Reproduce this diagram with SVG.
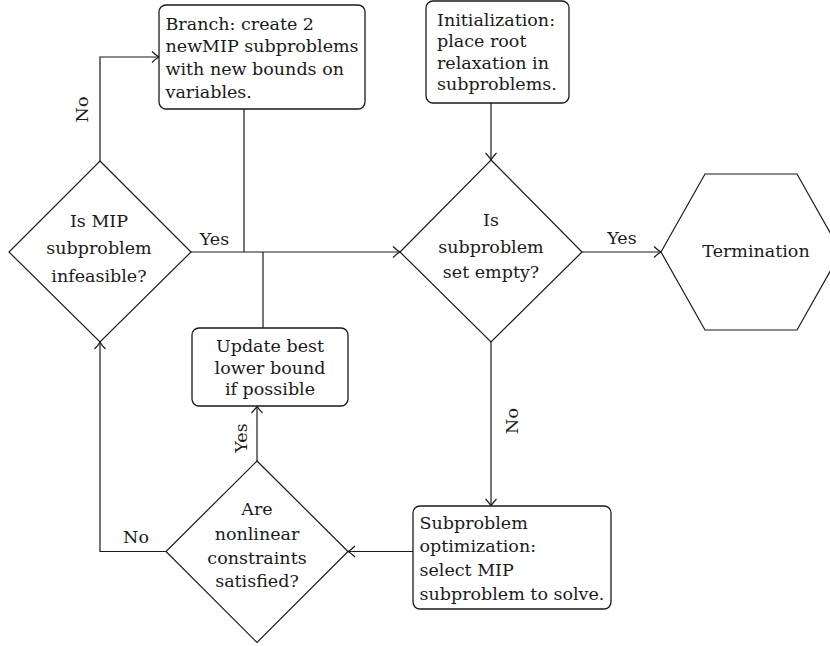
<svg xmlns="http://www.w3.org/2000/svg" width="830" height="646" viewBox="0 0 830 646">
<defs>
<style>
.box{fill:#fff;stroke:#1a1a1a;stroke-width:1.3}
.shape{fill:#fff;stroke:#1a1a1a;stroke-width:1.2}
.t{font-family:"DejaVu Serif","Liberation Serif",serif;font-size:17.5px;fill:#1a1a1a}
.c{text-anchor:middle}
.edge{fill:none;stroke:#1a1a1a;stroke-width:1.2}
</style>
<marker id="arr" markerUnits="userSpaceOnUse" markerWidth="16" markerHeight="16" viewBox="-8 -8 16 16" refX="0" refY="0" orient="auto">
<path d="M-7,-5.5 Q-3,-1.5 0,0 Q-3,1.5 -7,5.5" fill="none" stroke="#1a1a1a" stroke-width="1.2"/>
</marker>
</defs>
<rect width="830" height="646" fill="#fff"/>

<g id="connectors">
<path class="edge" d="M491,103 L491,160" marker-end="url(#arr)"/>
<path class="edge" d="M582,252 L661,252" marker-end="url(#arr)"/>
<path class="edge" d="M491,342 L491,506" marker-end="url(#arr)"/>
<path class="edge" d="M413,551.5 L348,551.5" marker-end="url(#arr)"/>
<path class="edge" d="M257,461 L257,406" marker-end="url(#arr)"/>
<path class="edge" d="M166,551.5 L100,551.5 L100,342" marker-end="url(#arr)"/>
<path class="edge" d="M100,161 L100,57 L159,57" marker-end="url(#arr)"/>
<path class="edge" d="M191,252 L400,252" marker-end="url(#arr)"/>
<path class="edge" d="M244,109 L244,252"/>
<path class="edge" d="M263,328 L263,252"/>
<text class="t c" x="214.5" y="245">Yes</text>
<text class="t c" x="622" y="244">Yes</text>
<text class="t c" x="136" y="543">No</text>
<text class="t c" transform="translate(88,109.5) rotate(-90)">No</text>
<text class="t c" transform="translate(518,421) rotate(-90)">No</text>
<text class="t c" transform="translate(246.5,438) rotate(-90)">Yes</text>
</g>

<g id="branch">
<rect class="box" x="159" y="5" width="206" height="104" rx="7"/>
<text class="t" x="165.5" y="29.5">Branch: create 2</text>
<text class="t" x="165.5" y="52.2">newMIP subproblems</text>
<text class="t" x="165.5" y="75">with new bounds on</text>
<text class="t" x="165.5" y="97.7">variables.</text>
</g>

<g id="init">
<rect class="box" x="426" y="1" width="143" height="102" rx="7"/>
<text class="t" x="437" y="26">Initialization:</text>
<text class="t" x="437" y="47">place root</text>
<text class="t" x="437" y="68.5">relaxation in</text>
<text class="t" x="437" y="90">subproblems.</text>
</g>

<g id="d1">
<polygon class="shape" points="100,161 191,252 100,342 9,252"/>
<text class="t c" x="99" y="226.7">Is MIP</text>
<text class="t c" x="99" y="254">subproblem</text>
<text class="t c" x="99" y="281.5">infeasible?</text>
</g>

<g id="d2">
<polygon class="shape" points="491,160 582,252 491,342 400,252"/>
<text class="t c" x="491" y="226">Is</text>
<text class="t c" x="491" y="253">subproblem</text>
<text class="t c" x="491" y="277.5">set empty?</text>
</g>

<g id="termination">
<polygon class="shape" points="661,252 705,174 797,174 841,252 797,330 705,330"/>
<text class="t c" x="756" y="257">Termination</text>
</g>

<g id="update">
<rect class="box" x="192" y="328" width="156" height="78" rx="7"/>
<text class="t c" x="270" y="352">Update best</text>
<text class="t c" x="270" y="373.5">lower bound</text>
<text class="t c" x="270" y="395">if possible</text>
</g>

<g id="d3">
<polygon class="shape" points="257,461 348,551.5 257,642.5 166,551.5"/>
<text class="t c" x="257" y="515">Are</text>
<text class="t c" x="257" y="540">nonlinear</text>
<text class="t c" x="257" y="563.5">constraints</text>
<text class="t c" x="257" y="587">satisfied?</text>
</g>

<g id="subopt">
<rect class="box" x="413" y="506" width="198" height="103" rx="7"/>
<text class="t" x="419.5" y="528.5">Subproblem</text>
<text class="t" x="419.5" y="552">optimization:</text>
<text class="t" x="419.5" y="576">select MIP</text>
<text class="t" x="419.5" y="599.5">subproblem to solve.</text>
</g>
</svg>
